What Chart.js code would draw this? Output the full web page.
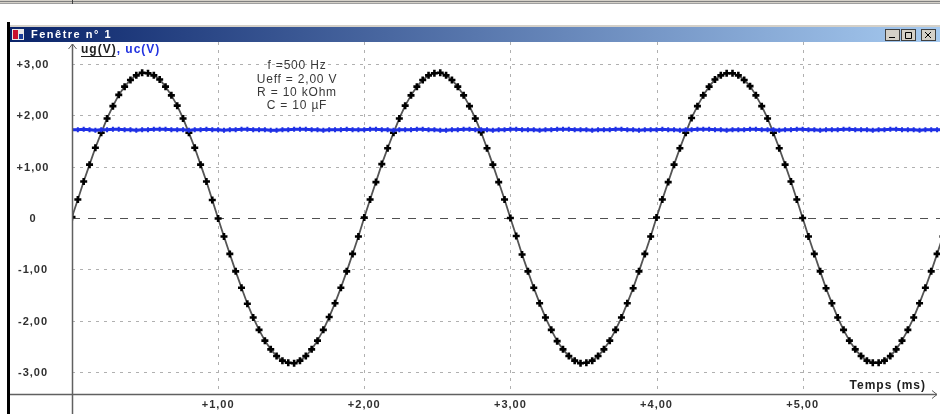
<!DOCTYPE html>
<html>
<head>
<meta charset="utf-8">
<script src="https://cdn.jsdelivr.net/npm/chart.js@4.4.1/dist/chart.umd.min.js"></script>
<style>
  html, body { margin: 0; padding: 0; background: #fff; overflow: hidden; }
  canvas { display: block; }
</style>
</head>
<body>
<canvas id="scope" width="940" height="414"></canvas>
<script>
// Acquisition: time in ms, voltages in V
const timeMs = [
  0, 0.04, 0.08, 0.12, 0.16, 0.2, 0.24, 0.28, 0.32, 0.36, 0.4, 0.44, 0.48, 0.52, 0.56, 0.6, 0.64, 0.68, 0.72, 0.76, 0.8, 0.84, 0.88, 0.92, 0.96,
  1, 1.04, 1.08, 1.12, 1.16, 1.2, 1.24, 1.28, 1.32, 1.36, 1.4, 1.44, 1.48, 1.52, 1.56, 1.6, 1.64, 1.68, 1.72, 1.76, 1.8, 1.84, 1.88, 1.92, 1.96,
  2, 2.04, 2.08, 2.12, 2.16, 2.2, 2.24, 2.28, 2.32, 2.36, 2.4, 2.44, 2.48, 2.52, 2.56, 2.6, 2.64, 2.68, 2.72, 2.76, 2.8, 2.84, 2.88, 2.92, 2.96,
  3, 3.04, 3.08, 3.12, 3.16, 3.2, 3.24, 3.28, 3.32, 3.36, 3.4, 3.44, 3.48, 3.52, 3.56, 3.6, 3.64, 3.68, 3.72, 3.76, 3.8, 3.84, 3.88, 3.92, 3.96,
  4, 4.04, 4.08, 4.12, 4.16, 4.2, 4.24, 4.28, 4.32, 4.36, 4.4, 4.44, 4.48, 4.52, 4.56, 4.6, 4.64, 4.68, 4.72, 4.76, 4.8, 4.84, 4.88, 4.92, 4.96,
  5, 5.04, 5.08, 5.12, 5.16, 5.2, 5.24, 5.28, 5.32, 5.36, 5.4, 5.44, 5.48, 5.52, 5.56, 5.6, 5.64, 5.68, 5.72, 5.76, 5.8, 5.84, 5.88, 5.92, 5.96
];

const ugVolts = [
  0.02, 0.36, 0.71, 1.04, 1.37, 1.66, 1.94, 2.18, 2.40, 2.56, 2.69, 2.78, 2.83, 2.82, 2.78, 2.70, 2.56, 2.39, 2.19, 1.94, 1.66, 1.37, 1.04, 0.71, 0.35,
  -0.01, -0.36, -0.70, -1.04, -1.36, -1.67, -1.94, -2.18, -2.39, -2.56, -2.69, -2.78, -2.82, -2.83, -2.78, -2.69, -2.56, -2.39, -2.18, -1.93, -1.66, -1.36, -1.04, -0.70, -0.36,
  0.01, 0.36, 0.70, 1.05, 1.36, 1.66, 1.94, 2.19, 2.39, 2.56, 2.69, 2.78, 2.82, 2.83, 2.78, 2.69, 2.56, 2.39, 2.18, 1.94, 1.67, 1.36, 1.04, 0.70, 0.36,
  0.00, -0.35, -0.71, -1.04, -1.36, -1.66, -1.94, -2.18, -2.40, -2.56, -2.69, -2.78, -2.83, -2.82, -2.78, -2.69, -2.56, -2.39, -2.18, -1.94, -1.66, -1.37, -1.04, -0.70, -0.36,
  0.01, 0.36, 0.70, 1.04, 1.36, 1.66, 1.95, 2.18, 2.39, 2.56, 2.70, 2.78, 2.82, 2.82, 2.78, 2.69, 2.57, 2.39, 2.18, 1.94, 1.66, 1.36, 1.04, 0.71, 0.36,
  0.00, -0.36, -0.70, -1.04, -1.37, -1.66, -1.94, -2.18, -2.39, -2.56, -2.69, -2.78, -2.82, -2.82, -2.78, -2.69, -2.56, -2.39, -2.18, -1.94, -1.66, -1.36, -1.04, -0.70, -0.36
];

const ucVolts = [
  1.72, 1.72, 1.73, 1.72, 1.71, 1.72, 1.72, 1.73, 1.73, 1.72, 1.72, 1.71, 1.72, 1.72, 1.73, 1.73, 1.73, 1.72, 1.72, 1.72, 1.71, 1.72, 1.72, 1.73, 1.72,
  1.72, 1.71, 1.72, 1.72, 1.73, 1.73, 1.72, 1.72, 1.72, 1.71, 1.71, 1.72, 1.72, 1.73, 1.73, 1.73, 1.72, 1.72, 1.71, 1.72, 1.72, 1.72, 1.73, 1.72, 1.72,
  1.72, 1.73, 1.73, 1.72, 1.72, 1.71, 1.72, 1.72, 1.72, 1.73, 1.73, 1.72, 1.72, 1.71, 1.71, 1.72, 1.72, 1.73, 1.73, 1.72, 1.72, 1.72, 1.71, 1.72, 1.72,
  1.73, 1.73, 1.72, 1.72, 1.72, 1.71, 1.72, 1.72, 1.73, 1.73, 1.73, 1.72, 1.72, 1.72, 1.71, 1.72, 1.72, 1.72, 1.73, 1.73, 1.72, 1.72, 1.71, 1.72, 1.72,
  1.72, 1.73, 1.72, 1.72, 1.71, 1.72, 1.72, 1.73, 1.73, 1.73, 1.72, 1.72, 1.71, 1.72, 1.72, 1.72, 1.73, 1.73, 1.72, 1.72, 1.72, 1.71, 1.72, 1.72, 1.73,
  1.73, 1.72, 1.72, 1.71, 1.72, 1.72, 1.72, 1.73, 1.73, 1.72, 1.72, 1.72, 1.71, 1.72, 1.72, 1.73, 1.73, 1.72, 1.72, 1.72, 1.71, 1.72, 1.72, 1.72, 1.72
];

const yTicks = [3, 2, 1, 0, -1, -2, -3];
const yTickLabels = ["+3,00", "+2,00", "+1,00", "0", "-1,00", "-2,00", "-3,00"];
const xTicks = [1, 2, 3, 4, 5];
const xTickLabels = ["+1,00", "+2,00", "+3,00", "+4,00", "+5,00"];

const infoLines = ["f =500 Hz", "Ueff = 2,00 V", "R = 10 kOhm", "C = 10 \u00b5F"];

const FONT = "'Liberation Sans', Arial, sans-serif";

// window chrome, grid, axes and texts drawn around the chart
const scopeWindow = {
  id: "scopeWindow",
  beforeDraw(chart) {
    const ctx = chart.ctx;
    const W = chart.width, H = chart.height;
    ctx.save();
    ctx.fillStyle = "#fff";
    ctx.fillRect(0, 0, W, H);

    // top frame lines
    ctx.fillStyle = "#d4d0c8";
    ctx.fillRect(0, 0, W, 4);
    ctx.fillStyle = "#808080";
    ctx.fillRect(0, 1, W, 1);
    ctx.fillStyle = "#a0a0a0";
    ctx.fillRect(0, 3, W, 1);
    ctx.fillStyle = "#404040";
    ctx.fillRect(72, 0, 1, 4);

    // left window border
    ctx.fillStyle = "#000";
    ctx.fillRect(7, 22, 3, H - 22);

    // title bar
    const grad = ctx.createLinearGradient(10, 0, W, 0);
    grad.addColorStop(0, "#0a246a");
    grad.addColorStop(1, "#a6caf0");
    ctx.fillStyle = grad;
    ctx.fillRect(10, 27, W - 10, 15);
    ctx.fillStyle = "#d4d0c8";
    ctx.fillRect(10, 25, W - 10, 2);

    // icon
    ctx.fillStyle = "#e8e8e8";
    ctx.fillRect(12, 29, 12, 11);
    ctx.fillStyle = "#c8102e";
    ctx.fillRect(13, 30, 5, 9);
    ctx.fillStyle = "#1a3d9a";
    ctx.fillRect(19, 34, 4, 5);

    ctx.fillStyle = "#fff";
    ctx.font = "bold 11px " + FONT;
    ctx.letterSpacing = "1.5px";
    ctx.textBaseline = "middle";
    ctx.textAlign = "left";
    ctx.fillText("Fen\u00eatre n\u00b0 1", 31, 35);
    ctx.letterSpacing = "0px";

    // window buttons
    const bx = [885, 901, 921];
    bx.forEach((x, i) => {
      ctx.fillStyle = "#d4d0c8";
      ctx.fillRect(x, 29, 15, 12);
      ctx.strokeStyle = "#404040";
      ctx.lineWidth = 1;
      ctx.strokeRect(x + 0.5, 29.5, 14, 11);
      ctx.strokeStyle = "#000";
      ctx.beginPath();
      if (i === 0) {
        ctx.moveTo(x + 4, 37.5); ctx.lineTo(x + 10, 37.5);
      } else if (i === 1) {
        ctx.rect(x + 4.5, 32.5, 6, 6);
      } else {
        ctx.moveTo(x + 4, 32); ctx.lineTo(x + 10, 38);
        ctx.moveTo(x + 10, 32); ctx.lineTo(x + 4, 38);
      }
      ctx.stroke();
    });
    ctx.restore();
  },
  beforeDatasetsDraw(chart) {
    const ctx = chart.ctx;
    const { left, right, top, bottom } = chart.chartArea;
    const xs = chart.scales.x, ys = chart.scales.y;
    ctx.save();
    ctx.lineWidth = 1;
    ctx.strokeStyle = "#b0b0b0";
    ctx.setLineDash([3, 5]);
    xTicks.forEach(v => {
      const px = Math.round(xs.getPixelForValue(v)) + 0.5;
      ctx.beginPath(); ctx.moveTo(px, top); ctx.lineTo(px, bottom); ctx.stroke();
    });
    yTicks.forEach(v => {
      if (v === 0) return;
      const py = Math.round(ys.getPixelForValue(v)) + 0.5;
      ctx.beginPath(); ctx.moveTo(left, py); ctx.lineTo(right, py); ctx.stroke();
    });
    // zero line
    ctx.strokeStyle = "#505050";
    ctx.setLineDash([8, 8]);
    const pz = Math.round(ys.getPixelForValue(0)) + 0.5;
    ctx.beginPath(); ctx.moveTo(left, pz); ctx.lineTo(right, pz); ctx.stroke();
    ctx.restore();
  },
  afterDraw(chart) {
    const ctx = chart.ctx;
    const { left, right, top, bottom } = chart.chartArea;
    const xs = chart.scales.x, ys = chart.scales.y;
    const H = chart.height;
    ctx.save();

    // axes
    ctx.strokeStyle = "#606060";
    ctx.lineWidth = 1.5;
    ctx.beginPath();
    ctx.moveTo(10, bottom + 0.5); ctx.lineTo(right - 3, bottom + 0.5);
    ctx.moveTo(left + 0.5, top + 2); ctx.lineTo(left + 0.5, H);
    ctx.stroke();
    ctx.lineWidth = 1;
    ctx.beginPath();
    ctx.moveTo(left - 3.5, top + 7); ctx.lineTo(left + 0.5, top + 2); ctx.lineTo(left + 4.5, top + 7);
    ctx.moveTo(right - 8, bottom - 3.5); ctx.lineTo(right - 3, bottom + 0.5); ctx.lineTo(right - 8, bottom + 4.5);
    ctx.stroke();

    // tick labels
    ctx.fillStyle = "#303030";
    ctx.font = "bold 11px " + FONT;
    ctx.letterSpacing = "1px";
    ctx.textAlign = "center";
    ctx.textBaseline = "middle";
    yTicks.forEach((v, i) => {
      ctx.fillText(yTickLabels[i], 33, ys.getPixelForValue(v) + 1);
    });
    xTicks.forEach((v, i) => {
      ctx.fillText(xTickLabels[i], xs.getPixelForValue(v), bottom + 11);
    });

    // series names
    ctx.textAlign = "left";
    ctx.font = "bold 12px " + FONT;
    ctx.fillStyle = "#202020";
    const n1 = "ug(V)";
    ctx.fillText(n1, 81, 50);
    const w1 = ctx.measureText(n1).width;
    ctx.fillRect(81, 56, w1 - 1, 1);
    ctx.fillStyle = "#2233e0";
    ctx.fillText(", uc(V)", 81 + w1, 50);

    // info block
    ctx.fillStyle = "#383838";
    ctx.font = "12px " + FONT;
    ctx.letterSpacing = "0.8px";
    ctx.textAlign = "center";
    infoLines.forEach((s, i) => ctx.fillText(s, 297, 66 + i * 13.3));

    // x axis title
    ctx.font = "bold 12px " + FONT;
    ctx.letterSpacing = "1px";
    ctx.textAlign = "right";
    ctx.fillStyle = "#202020";
    ctx.fillText("Temps (ms)", 926, bottom - 8);
    ctx.letterSpacing = "0px";
    ctx.restore();
  }
};

const ugPoints = timeMs.map((t, i) => ({ x: t, y: ugVolts[i] }));
const ucPoints = timeMs.map((t, i) => ({ x: t, y: ucVolts[i] }));

new Chart(document.getElementById("scope"), {
  type: "line",
  data: {
    datasets: [
      {
        label: "uc(V)",
        data: ucPoints,
        borderColor: "#1f30e6",
        borderWidth: 3,
        pointStyle: "cross",
        pointRadius: 2.5,
        pointBorderWidth: 2,
        pointBorderColor: "#1f30e6",
        tension: 0
      },
      {
        label: "ug(V)",
        data: ugPoints,
        borderColor: "#555555",
        borderWidth: 1.8,
        pointStyle: "cross",
        pointRadius: 3.5,
        pointBorderWidth: 2.6,
        pointBorderColor: "#000",
        tension: 0
      }
    ]
  },
  options: {
    responsive: false,
    animation: false,
    devicePixelRatio: 1,
    layout: { autoPadding: false, padding: { left: 72, right: 0, top: 42, bottom: 20 } },
    plugins: { legend: { display: false }, tooltip: { enabled: false } },
    scales: {
      x: {
        type: "linear",
        min: 0,
        max: 5.94,
        ticks: { display: false },
        grid: { display: false, drawTicks: false },
        border: { display: false }
      },
      y: {
        min: -3.43,
        max: 3.43,
        ticks: { display: false },
        grid: { display: false, drawTicks: false },
        border: { display: false }
      }
    }
  },
  plugins: [scopeWindow]
});
</script>
</body>
</html>
